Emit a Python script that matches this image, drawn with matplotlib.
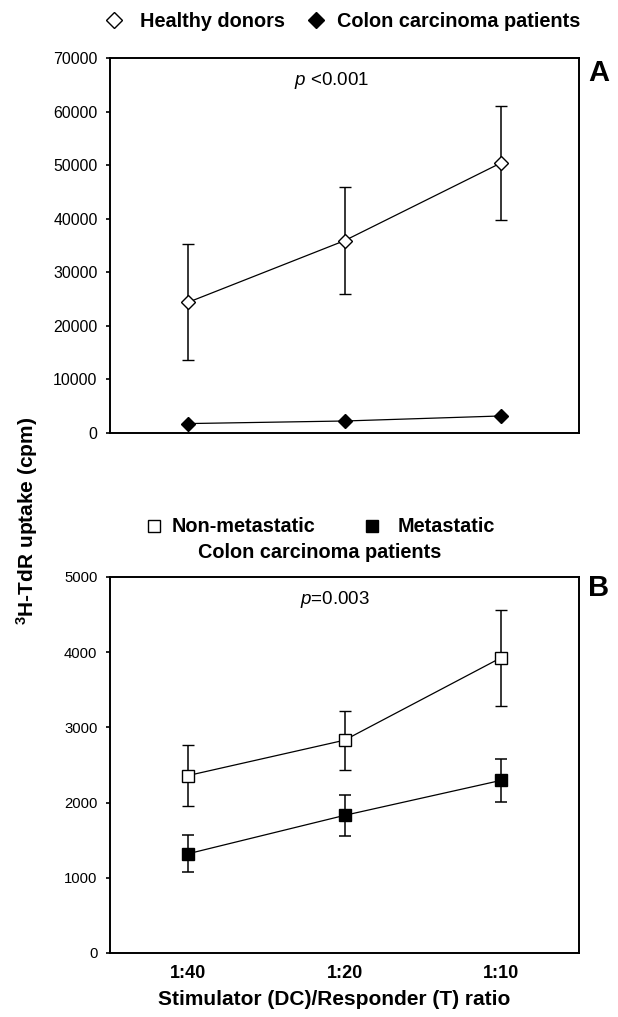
import matplotlib.pyplot as plt
import numpy as np
from matplotlib.lines import Line2D

plt.rcParams["font.family"] = ["Liberation Sans", "DejaVu Sans"]
plt.rcParams["mathtext.fontset"] = "custom"
plt.rcParams["mathtext.rm"] = "Liberation Sans"
plt.rcParams["mathtext.it"] = "Liberation Sans:italic"
plt.rcParams["mathtext.bf"] = "Liberation Sans:bold"

# ── data ─────────────────────────────────────────────────────
ratios = ["1:40", "1:20", "1:10"]

healthy_mean = [24400, 35900, 50400]
healthy_err = [10800, 10000, 10600]
colon_mean = [1760, 2240, 3180]

nonmet_mean = [2360, 2830, 3925]
nonmet_err = [410, 390, 640]
met_mean = [1320, 1830, 2295]
met_err = [245, 275, 285]

x = np.arange(1, len(ratios) + 1)

fig = plt.figure(figsize=(6.18, 10.17), dpi=100)
W, H = 618, 1017


def fx(px):
    return px / W


def fy(py):
    return 1 - py / H


def px_axes(left, top, right, bottom):
    return fig.add_axes([fx(left), fy(bottom), (right - left) / W, (bottom - top) / H])


def style(ax, yticks, fs):
    ax.set_xlim(0.5, 3.5)
    ax.set_yticks(yticks)
    ax.tick_params(axis="y", direction="out", length=3, width=1.2, labelsize=fs, pad=6)
    ax.tick_params(axis="x", length=0)
    for s in ax.spines.values():
        s.set_linewidth(1.4)


def legend_marker(px, py, marker, ms, filled):
    fig.add_artist(Line2D([fx(px)], [fy(py)], transform=fig.transFigure, marker=marker,
                          ms=ms, mfc="black" if filled else "white", mec="black", mew=1,
                          ls="none"))


err_kw = dict(ecolor="black", elinewidth=1.1, capsize=4, capthick=1.1)
leg_fs = 14.3

# ── Panel A ──────────────────────────────────────────────────
axA = px_axes(110, 58, 579, 433)
axA.errorbar(x, healthy_mean, yerr=healthy_err, color="black", lw=0.9, marker="D",
             ms=7.3, mfc="white", mec="black", mew=1, **err_kw)
axA.plot(x, colon_mean, color="black", lw=0.9, marker="D", ms=7.3, mfc="black", mec="black")
axA.set_ylim(0, 70000)
style(axA, np.arange(0, 70001, 10000), 11.4)
axA.set_xticks(x)
axA.set_xticklabels([])
fig.text(fx(332), fy(85), r"$\it{p}$ <0.001", ha="center", va="baseline", fontsize=13.5)
fig.text(fx(588), fy(81), "A", fontsize=21, fontweight="bold", va="baseline", ha="left")

# legend A
legend_marker(114, 20, "D", 8, False)
fig.text(fx(140), fy(27), "Healthy donors", fontsize=leg_fs, fontweight="bold",
         va="baseline", ha="left")
legend_marker(316, 20, "D", 8.5, True)
fig.text(fx(337), fy(27), "Colon carcinoma patients", fontsize=leg_fs, fontweight="bold",
         va="baseline", ha="left")

# ── Panel B ──────────────────────────────────────────────────
axB = px_axes(110, 577, 579, 953)
axB.errorbar(x, nonmet_mean, yerr=nonmet_err, color="black", lw=0.9, marker="s",
             ms=9, mfc="white", mec="black", mew=1, **err_kw)
axB.errorbar(x, met_mean, yerr=met_err, color="black", lw=0.9, marker="s",
             ms=9, mfc="black", mec="black", **err_kw)
axB.set_ylim(0, 5000)
style(axB, np.arange(0, 5001, 1000), 10.7)
axB.set_xticks(x)
axB.set_xticklabels(ratios, fontsize=13, fontweight="bold")
axB.tick_params(axis="x", pad=8.5)
fig.text(fx(335), fy(604), r"$\it{p}$=0.003", ha="center", va="baseline", fontsize=13.5)
fig.text(fx(588), fy(596), "B", fontsize=21, fontweight="bold", va="baseline", ha="left")
fig.text(fx(334), fy(1005), "Stimulator (DC)/Responder (T) ratio", fontsize=15,
         fontweight="bold", va="baseline", ha="center")

# legend B
legend_marker(153.5, 526, "s", 9, False)
fig.text(fx(172), fy(532), "Non-metastatic", fontsize=leg_fs, fontweight="bold",
         va="baseline", ha="left")
legend_marker(372, 526, "s", 8.5, True)
fig.text(fx(398), fy(532), "Metastatic", fontsize=leg_fs, fontweight="bold",
         va="baseline", ha="left")
fig.text(fx(319.5), fy(558), "Colon carcinoma patients", fontsize=leg_fs,
         fontweight="bold", va="baseline", ha="center")

# shared y label
fig.text(fx(27), fy(521), r"$\mathbf{^{3}}$H-TdR uptake (cpm)", rotation=90,
         fontsize=15, fontweight="bold", va="center", ha="center")

fig.savefig("out.png", dpi=100)
